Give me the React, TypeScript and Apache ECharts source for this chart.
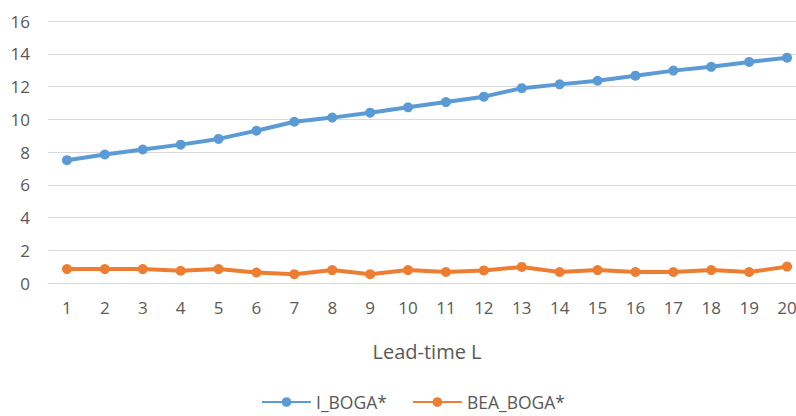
import React, { useEffect, useRef } from "react";
import * as echarts from "echarts";

const categories = ["1","2","3","4","5","6","7","8","9","10","11","12","13","14","15","16","17","18","19","20"];
const iBoga = [7.5, 7.85, 8.15, 8.45, 8.8, 9.3, 9.85, 10.1, 10.4, 10.73, 11.05, 11.38, 11.9, 12.13, 12.35, 12.66, 12.97, 13.2, 13.5, 13.76];
const beaBoga = [0.85, 0.85, 0.85, 0.75, 0.85, 0.64, 0.54, 0.79, 0.54, 0.79, 0.67, 0.77, 0.98, 0.67, 0.79, 0.67, 0.67, 0.79, 0.67, 1.0];
const yMin = 0;
const yMax = 16;
const yInterval = 2;
const xTitle = "Lead-time L";
const seriesNames = ["I_BOGA*", "BEA_BOGA*"];

export default function App() {
  const ref = useRef<HTMLDivElement>(null);
  useEffect(() => {
    if (!ref.current) return;
    const chart = echarts.init(ref.current, null, { renderer: "svg" });
    const font = "'Open Sans', sans-serif";
    const textColor = "#595959";
    chart.setOption({
      animation: false,
      grid: { left: 48, top: 21, width: 758, bottom: 133, containLabel: false, outerBoundsMode: "none" },
      legend: {
        left: 261,
        top: 392,
        padding: 0,
        itemWidth: 49,
        itemHeight: 12,
        itemGap: 25,
        textStyle: { fontFamily: font, fontSize: 17.5, color: textColor, lineHeight: 20 },
        data: seriesNames,
      },
      xAxis: {
        type: "category",
        data: categories,
        boundaryGap: true,
        name: xTitle,
        nameLocation: "middle",
        nameGap: 58,
        nameTextStyle: { fontFamily: font, fontSize: 20, color: textColor },
        axisLine: { show: true, lineStyle: { color: "#d9d9d9", width: 1 } },
        axisTick: { show: false },
        axisLabel: { fontFamily: font, fontSize: 17, color: textColor, margin: 16, interval: 0 },
      },
      yAxis: {
        type: "value",
        min: yMin,
        max: yMax,
        interval: yInterval,
        axisLine: { show: false },
        axisTick: { show: false },
        splitLine: { lineStyle: { color: "#d9d9d9", width: 1 } },
        axisLabel: { fontFamily: font, fontSize: 17, color: textColor, margin: 18 },
      },
      series: [
        {
          name: seriesNames[0],
          type: "line",
          data: iBoga,
          symbol: "circle",
          symbolSize: 10,
          itemStyle: { color: "#5B9BD5" },
          lineStyle: { color: "#5B9BD5", width: 4 },
        },
        {
          name: seriesNames[1],
          type: "line",
          data: beaBoga,
          symbol: "circle",
          symbolSize: 10,
          itemStyle: { color: "#ED7D31" },
          lineStyle: { color: "#ED7D31", width: 4 },
        },
      ],
    });
    return () => chart.dispose();
  }, []);
  return <div ref={ref} style={{ width: 796, height: 416, position: "absolute", left: 0, top: 0 }} />;
}
